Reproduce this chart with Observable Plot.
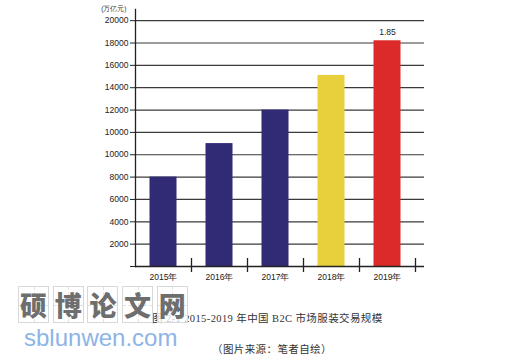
<!DOCTYPE html>
<html><head><meta charset="utf-8">
<script src="https://cdn.jsdelivr.net/npm/d3@7"></script>
<script src="https://cdn.jsdelivr.net/npm/@observablehq/plot@0.6"></script>
<style>
body{margin:0;background:#fff;width:529px;height:357px;overflow:hidden;position:relative;font-family:Arial,"Liberation Sans",sans-serif}
#chart{position:absolute;left:0;top:0}
.cap{position:absolute;white-space:pre;color:#333;font-family:"Liberation Serif","Noto Sans CJK SC",serif;font-size:10.5px;line-height:12px;letter-spacing:0.4px}
.wm{position:absolute;top:286px;width:31px;height:37px;border:1px solid #d8d8d8;background:rgba(255,255,255,0.75);box-sizing:border-box;
  font-family:"Noto Sans CJK SC",sans-serif;font-weight:900;font-size:27px;line-height:35px;text-align:center;color:#6e6e6e}
.wm::before{content:"";position:absolute;left:50%;top:0;bottom:0;border-left:1px dashed #e2e2e2}
.wm::after{content:"";position:absolute;top:50%;left:0;right:0;border-top:1px dashed #e2e2e2}
.wm span{position:relative;z-index:1}
#site{position:absolute;left:24px;top:324px;font-family:Arial,"Liberation Sans",sans-serif;font-size:24px;color:#8db4e6}
</style></head><body>
<div id="chart"></div>
<div class="cap" id="cap1" style="left:152px;top:313px">图 2-1 2015-2019 年中国 B2C 市场服装交易规模</div>
<div class="cap" id="cap2" style="left:212px;top:344px">（图片来源：笔者自绘）</div>
<div id="wm"></div>
<div id="site">sblunwen.com</div>
<script>
const years = ["2015年", "2016年", "2017年", "2018年", "2019年"];
const values = [8000, 11000, 14000, 17100, 20200];
const colors = ["#312a74", "#312a74", "#312a74", "#e8d03c", "#dc2a2a"];
const barLabels = ["", "", "", "", "1.85"];
const tickValues = [0, 2000, 4000, 6000, 8000, 10000, 12000, 14000, 16000, 18000, 20000, 22000];
const tickLabels = ["", "2000", "4000", "6000", "8000", "10000", "10000", "12000", "14000", "16000", "18000", "20000"];
const unit = "(万亿元)";
const watermark = ["硕", "博", "论", "文", "网"];

const data = years.map((y, i) => ({year: y, value: values[i], color: colors[i], label: barLabels[i]}));

const chart = Plot.plot({
  width: 529, height: 290,
  marginLeft: 135, marginRight: 105, marginTop: 9, marginBottom: 24,
  x: {domain: years, range: [135, 415], padding: 0, label: null},
  y: {domain: [0, 23000], label: null},
  style: {fontFamily: "Arial, 'Liberation Sans', sans-serif", fontSize: "8.5px", color: "#222", background: "transparent"},
  marks: [
    Plot.ruleY(tickValues.slice(1), {stroke: "#3a3a3a", strokeWidth: 1.2}),
    Plot.barY(data, {x: "year", y: "value", fill: "color", insetLeft: 14.5, insetRight: 14.5}),
    Plot.text(data, {x: "year", y: "value", text: "label", dy: -9, fill: "#222", fontSize: 8.5}),
    Plot.ruleY([0], {stroke: "#222", strokeWidth: 1.3}),
    Plot.frame({anchor: "left", stroke: "#222", strokeWidth: 1.3}),
    Plot.axisY({ticks: tickValues, tickFormat: d => tickLabels[tickValues.indexOf(d)], tickSize: 5, tickPadding: 2, label: null, stroke: "#222"}),
    Plot.axisX({tickFormat: () => "", tickSize: 14, dx: 28, dy: -8, stroke: "#222", strokeWidth: 1.3, label: null}),
    Plot.axisX({tickSize: 0, tickPadding: 7, label: null}),
    Plot.text([unit], {frameAnchor: "top-left", textAnchor: "end", dx: -9, dy: -3, fontSize: 6.5, fill: "#333"})
  ]
});
document.getElementById("chart").appendChild(chart);

const wm = document.getElementById("wm");
watermark.forEach((c, i) => {
  const d = document.createElement("div");
  d.className = "wm";
  d.style.left = (18 + i * 34.7) + "px";
  d.innerHTML = "<span>" + c + "</span>";
  wm.appendChild(d);
});
</script>
</body></html>
